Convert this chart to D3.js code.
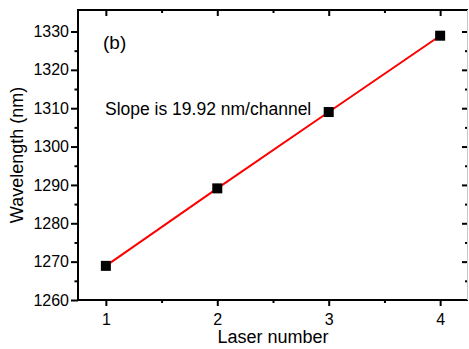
<!DOCTYPE html>
<html>

<head>
    <meta charset="utf-8">
    <style>
        body {
            margin: 0;
            background: #fff;
        }

        svg {
            display: block;
            font-family: 'Liberation Sans', Arial, sans-serif;
        }

        .axis .domain {
            display: none;
        }

        .axis .tick line {
            stroke: #000;
            stroke-width: 2px;
        }

        .axis .tick text {
            font-size: 16px;
            fill: #000;
        }
    </style>
</head>

<body>
    <svg width="469" height="349"></svg>
</body>

<script src="https://d3js.org/d3.v7.min.js"></script>

<script>

    // laser channel numbers and measured wavelengths (nm)
    let lasers = [1, 2, 3, 4];
    let wavelengths = [1268.9, 1289.1, 1309.0, 1328.9];

    let xTicks = [1, 2, 3, 4];
    let xMinor = [1.5, 2.5, 3.5];
    let yTicks = [1260, 1270, 1280, 1290, 1300, 1310, 1320, 1330];
    let yMinor = [1265, 1275, 1285, 1295, 1305, 1315, 1325];

    let data = lasers.map((d, i) => ({ laser: d, wl: wavelengths[i] }));

    let svg = d3.select("svg");

    let margin = { top: 10, right: 1, bottom: 49, left: 78 };
    let width = 469, height = 349;

    let x = d3.scaleLinear()
        .domain([0.75, 4.25])
        .range([margin.left, width - margin.right]);

    let y = d3.scaleLinear()
        .domain([1260, 1335.6])
        .range([height - margin.bottom, margin.top]);

    let bottom = height - margin.bottom;
    let right = width - margin.right;

    // bottom axis - major ticks with labels
    svg.append("g")
        .attr("class", "axis")
        .attr("transform", `translate(0,${bottom})`)
        .call(d3.axisBottom(x).tickValues(xTicks).tickSize(6).tickPadding(8).tickFormat(d3.format("d")));

    svg.append("g")
        .attr("class", "axis")
        .attr("transform", `translate(0,${bottom})`)
        .call(d3.axisBottom(x).tickValues(xMinor).tickSize(3).tickFormat(""));

    // top axis - ticks point inward
    svg.append("g")
        .attr("class", "axis")
        .attr("transform", `translate(0,${margin.top})`)
        .call(d3.axisTop(x).tickValues(xTicks).tickSize(-6).tickFormat(""));

    svg.append("g")
        .attr("class", "axis")
        .attr("transform", `translate(0,${margin.top})`)
        .call(d3.axisTop(x).tickValues(xMinor).tickSize(-3).tickFormat(""));

    // left axis
    svg.append("g")
        .attr("class", "axis")
        .attr("transform", `translate(${margin.left},0)`)
        .call(d3.axisLeft(y).tickValues(yTicks).tickSize(7).tickPadding(2).tickFormat(d3.format("d")));

    svg.append("g")
        .attr("class", "axis")
        .attr("transform", `translate(${margin.left},0)`)
        .call(d3.axisLeft(y).tickValues(yMinor).tickSize(3.5).tickFormat(""));

    // right axis - ticks point inward
    svg.append("g")
        .attr("class", "axis")
        .attr("transform", `translate(${right},0)`)
        .call(d3.axisRight(y).tickValues(yTicks.slice(1)).tickSize(-6).tickFormat(""));

    svg.append("g")
        .attr("class", "axis")
        .attr("transform", `translate(${right},0)`)
        .call(d3.axisRight(y).tickValues(yMinor).tickSize(-3).tickFormat(""));

    // frame
    svg.append("line")
        .attr("x1", margin.left - 1).attr("x2", right)
        .attr("y1", bottom).attr("y2", bottom)
        .style("stroke", "#000").style("stroke-width", "2px");

    svg.append("line")
        .attr("x1", margin.left - 1).attr("x2", right)
        .attr("y1", margin.top).attr("y2", margin.top)
        .style("stroke", "#000").style("stroke-width", "2px");

    svg.append("line")
        .attr("x1", margin.left).attr("x2", margin.left)
        .attr("y1", margin.top - 1).attr("y2", bottom + 1)
        .style("stroke", "#000").style("stroke-width", "2px");

    svg.append("line")
        .attr("x1", right - 0.5).attr("x2", right - 0.5)
        .attr("y1", margin.top).attr("y2", bottom)
        .style("stroke", "#c8c8c8").style("stroke-width", "1px");

    // fitted line through the points
    let line = d3.line()
        .x(d => x(d.laser))
        .y(d => y(d.wl));

    svg.append("path")
        .attr("d", line(data))
        .style("fill", "none")
        .style("stroke", "#ff0000")
        .style("stroke-width", "2px");

    svg.selectAll(".pt")
        .data(data)
        .enter()
        .append("rect")
        .attr("class", "pt")
        .attr("x", d => x(d.laser) - 5)
        .attr("y", d => y(d.wl) - 5)
        .attr("width", 10)
        .attr("height", 10)
        .style("fill", "#000");

    // labels
    svg.append("text")
        .attr("x", 103)
        .attr("y", 49)
        .style("font-size", "19px")
        .text("(b)");

    svg.append("text")
        .attr("x", 105)
        .attr("y", 115)
        .style("font-size", "17.5px")
        .text("Slope is 19.92 nm/channel");

    svg.append("text")
        .attr("x", (margin.left + right) / 2)
        .attr("y", 343)
        .attr("text-anchor", "middle")
        .style("font-size", "18px")
        .text("Laser number");

    svg.append("text")
        .attr("transform", `translate(23,${(margin.top + bottom) / 2}) rotate(-90)`)
        .attr("text-anchor", "middle")
        .style("font-size", "18px")
        .text("Wavelength (nm)");

</script>

</html>
